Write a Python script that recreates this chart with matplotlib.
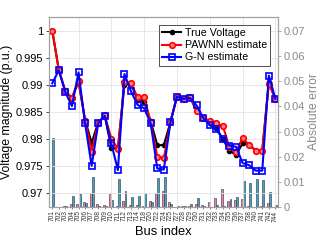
import matplotlib
matplotlib.use("Agg")
import matplotlib.pyplot as plt
import numpy as np
from matplotlib.ticker import FuncFormatter

plt.rcParams['font.family'] = ['Liberation Sans', 'DejaVu Sans']

# bus labels
buses = ['701', '702', '703', '704', '705', '706', '707', '708', '709', '710',
         '711', '712', '713', '714', '718', '720', '722', '724', '725', '727',
         '728', '729', '730', '731', '732', '733', '734', '735', '736', '737',
         '738', '740', '741', '742', '744']

# voltage magnitudes (p.u.)
true_v = [1.0, 0.9927, 0.9888, 0.9876, 0.9906, 0.9835, 0.9793, 0.9831, 0.9843, 0.9783,
          0.9783, 0.9900, 0.9902, 0.9873, 0.9869, 0.9833, 0.9789, 0.9789, 0.9831, 0.9879,
          0.9874, 0.9877, 0.9852, 0.9839, 0.9830, 0.9820, 0.9800, 0.9779, 0.9771, 0.9792,
          0.9790, 0.9779, 0.9779, 0.9905, 0.9874]
pawnn_v = [1.0, 0.9927, 0.9888, 0.9876, 0.9908, 0.9834, 0.9777, 0.9830, 0.9844, 0.9801,
           0.9782, 0.9906, 0.9903, 0.9877, 0.9877, 0.9831, 0.9768, 0.9765, 0.9831, 0.9878,
           0.9874, 0.9877, 0.9852, 0.9839, 0.9834, 0.9829, 0.9824, 0.9785, 0.9777, 0.9802,
           0.9789, 0.9779, 0.9779, 0.9902, 0.9874]
gn_v = [0.9903, 0.9927, 0.9886, 0.9861, 0.9923, 0.9829, 0.9751, 0.9829, 0.9843, 0.9792,
        0.9743, 0.9920, 0.9888, 0.9863, 0.9857, 0.9829, 0.9746, 0.9744, 0.9831, 0.9878,
        0.9874, 0.9876, 0.9862, 0.9839, 0.9826, 0.9818, 0.9801, 0.9788, 0.9786, 0.9756,
        0.9752, 0.9742, 0.9742, 0.9917, 0.9874]

# absolute errors
err_pawnn = [0.0, 0.0002, 0.0003, 0.0012, 0.0012, 0.0020, 0.0056, 0.0012, 0.0008, 0.0052,
             0.0004, 0.0022, 0.0006, 0.0007, 0.0003, 0.0022, 0.0056, 0.0063, 0.0019, 0.0001,
             0.0003, 0.0004, 0.0012, 0.0008, 0.0020, 0.0034, 0.0070, 0.0024, 0.0028, 0.0033,
             0.0005, 0.0002, 0.0004, 0.0017, 0.0002]
err_gn = [0.0273, 0.0002, 0.0005, 0.0044, 0.0052, 0.0016, 0.0119, 0.0005, 0.0005, 0.0028,
          0.0111, 0.0063, 0.0041, 0.0044, 0.0056, 0.0020, 0.0114, 0.0118, 0.0012, 0.0005,
          0.0003, 0.0010, 0.0037, 0.0005, 0.0001, 0.0006, 0.0004, 0.0030, 0.0038, 0.0104,
          0.0096, 0.0110, 0.0107, 0.0060, 0.0008]

x = np.arange(1, len(buses) + 1)
grey = '#8a8a8a'

fig = plt.figure(figsize=(3.23, 2.42), dpi=100)
ax = fig.add_axes([0.1517, 0.1446, 0.709, 0.7852])
ax2 = ax.twinx()

# bars on the right axis (drawn underneath)
ax2.bar(x - 0.16, err_pawnn, width=0.3, color='#e582b0', edgecolor='#333333', linewidth=0.4)
ax2.bar(x + 0.16, err_gn, width=0.3, color='#3ea2cc', edgecolor='#333333', linewidth=0.4)
ax2.set_ylim(0, 0.0755)
ax2.set_yticks(np.arange(0, 0.071, 0.01))
ax2.yaxis.set_major_formatter(FuncFormatter(lambda v, p: '%g' % round(v, 3)))
ax2.tick_params(axis='y', colors=grey, labelsize=8, length=2, width=0.5, pad=2)
ax2.set_ylabel('Absolute error', color=grey, fontsize=8.8, labelpad=2)

ax.set_zorder(ax2.get_zorder() + 1)
ax.patch.set_visible(False)

# vertical grid every 5 buses, horizontal grid on left ticks
for g in range(5, 36, 5):
    ax.axvline(g, color='#e3e3e3', linewidth=0.6, zorder=0)
for v in np.arange(0.97, 1.0001, 0.005):
    ax.axhline(v, color='#e3e3e3', linewidth=0.6, zorder=0)

ax.plot(x, true_v, '-o', color='black', markersize=3, linewidth=1.5, label='True Voltage')
ax.plot(x, pawnn_v, '-o', color='#ff0000', markerfacecolor='#ff8080', markersize=4,
        linewidth=1.5, markeredgewidth=1.2, label='PAWNN estimate')
ax.plot(x, gn_v, '-s', color='#0000ff', markerfacecolor='none', markersize=4,
        linewidth=1.5, markeredgewidth=1.2, label='G-N estimate')

ax.set_xlim(0.5, 35.4)
ax.set_ylim(0.9675, 1.0025)
ax.set_yticks(np.arange(0.97, 1.0001, 0.005))
ax.yaxis.set_major_formatter(FuncFormatter(lambda v, p: '%g' % round(v, 3)))
ax.set_xticks(x)
ax.set_xticklabels(buses, rotation=90, fontsize=4.8)
ax.tick_params(axis='x', length=1.5, width=0.4, pad=1, colors='#333333')
ax.tick_params(axis='y', labelsize=8, length=2, width=0.5, pad=2)
ax.set_ylabel('Voltage magnitude (p.u.)', fontsize=8.8, labelpad=2)
ax.set_xlabel('Bus index', fontsize=9.3, labelpad=3)

for a in (ax, ax2):
    for s in a.spines.values():
        s.set_color('#a0a0a0')
        s.set_linewidth(0.8)

leg = ax.legend(loc='upper right', bbox_to_anchor=(0.965, 0.958), fontsize=7.7,
                fancybox=False, framealpha=1, edgecolor='#333333',
                borderpad=0.3, labelspacing=0.2, handlelength=1.8, handletextpad=0.3,
                borderaxespad=0)
leg.get_frame().set_linewidth(0.6)

fig.savefig('out.png', dpi=100)
